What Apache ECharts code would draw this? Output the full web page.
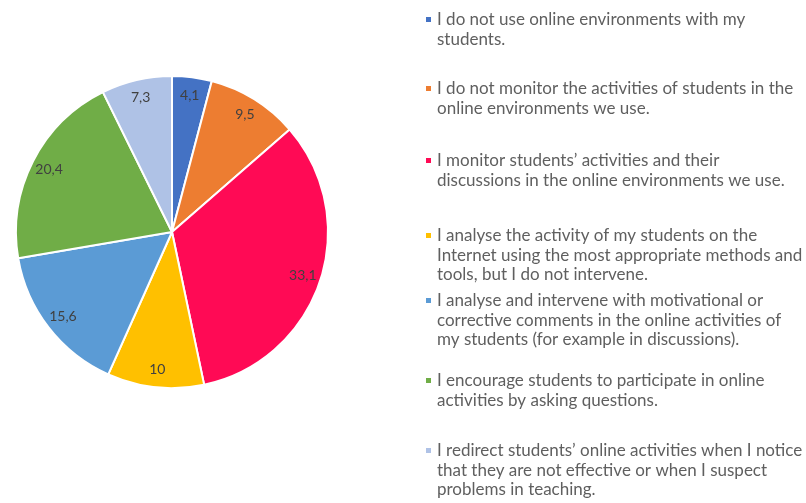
<!DOCTYPE html>
<html>
<head>
<meta charset="utf-8">
<script src="https://cdn.jsdelivr.net/npm/echarts@6/dist/echarts.min.js"></script>
<style>
  html, body { margin: 0; padding: 0; background: #ffffff; }
  #chart { width: 806px; height: 503px; }
</style>
</head>
<body>
<div id="chart"></div>
<script>
// Survey answers (percent of teachers), clockwise from 12 o'clock
const categories = [
  'I do not use online environments with my\nstudents.',
  'I do not monitor the activities of students in the\nonline environments we use.',
  'I monitor students\u2019 activities and their\ndiscussions in the online environments we use.',
  'I analyse the activity of my students on the\nInternet using the most appropriate methods and\ntools, but I do not intervene.',
  'I analyse and intervene with motivational or\ncorrective comments in the online activities of\nmy students (for example in discussions).',
  'I encourage students to participate in online\nactivities by asking questions.',
  'I redirect students\u2019 online activities when I notice\nthat they are not effective or when I suspect\nproblems in teaching.'
];
const values = [4.1, 9.5, 33.1, 10, 15.6, 20.4, 7.3];
const colors = ['#4472C4', '#ED7D31', '#FF0A55', '#FFC000', '#5B9BD5', '#70AD47', '#AFC2E6'];

// Legend layout (first-line centre of each entry)
const legendTops = [20, 89, 161, 236, 301, 381, 451];
const lineH = 19.5;

const chart = echarts.init(document.getElementById('chart'), null, { renderer: 'canvas' });

const pieData = categories.map((name, i) => ({ name: name, value: values[i], itemStyle: { color: colors[i] } }));
const fmt = p => String(p.value).replace('.', ',');

const graphic = [];
categories.forEach((name, i) => {
  graphic.push({
    type: 'rect',
    left: 426, top: legendTops[i] - 3,
    shape: { width: 5, height: 5 },
    style: { fill: colors[i] }
  });
  graphic.push({
    type: 'text',
    left: 437, top: legendTops[i] - lineH / 2,
    style: {
      text: name,
      font: '17px Lato',
      lineHeight: lineH,
      fill: '#5f5f5f'
    }
  });
});

chart.setOption({
  animation: false,
  backgroundColor: '#ffffff',
  graphic: graphic,
  series: [
    {
      type: 'pie',
      center: [172, 232],
      radius: [0, 156],
      startAngle: 90,
      clockwise: true,
      silent: true,
      label: { show: false },
      labelLine: { show: false },
      itemStyle: { borderColor: '#ffffff', borderWidth: 2 },
      data: pieData
    },
    {
      // transparent ring carrying the value labels near the rim
      type: 'pie',
      center: [172, 232],
      radius: [114, 156],
      startAngle: 90,
      clockwise: true,
      silent: true,
      itemStyle: { color: 'rgba(0,0,0,0)' },
      label: {
        show: true,
        position: 'inside',
        formatter: fmt,
        fontFamily: 'Lato',
        fontSize: 14,
        color: '#404040'
      },
      labelLine: { show: false },
      data: values.map((v, i) => ({ name: categories[i], value: v }))
    }
  ]
});
</script>
</body>
</html>
